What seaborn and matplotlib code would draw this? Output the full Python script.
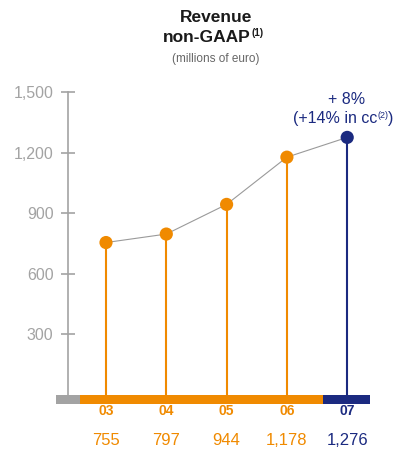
import matplotlib
matplotlib.use("Agg")
import matplotlib.pyplot as plt
import seaborn as sns
import pandas as pd
import numpy as np

# Revenue, non-GAAP (millions of euro)
years = ["03", "04", "05", "06", "07"]
revenue = [755, 797, 944, 1178, 1276]
value_labels = ["755", "797", "944", "1,178", "1,276"]
y_ticks = [300, 600, 900, 1200, 1500]
y_tick_labels = ["300", "600", "900", "1,200", "1,500"]

ORANGE = "#F08A00"
NAVY = "#1B2A80"
GREY = "#A3A3A3"
LINE_GREY = "#9A9A9A"

sns.set_style("white")
plt.rcParams["font.family"] = ["Liberation Sans", "DejaVu Sans"]

df = pd.DataFrame({"pos": np.arange(len(years)), "year": years, "revenue": revenue})
colors = [ORANGE] * (len(years) - 1) + [NAVY]

W, H = 397, 454
fig = plt.figure(figsize=(W / 100, H / 100), dpi=100)
ax = fig.add_axes([56 / W, (H - 404) / H, (370 - 56) / W, (404 - 72) / H])
ax.set_xlim(-0.829, 4.378)
ax.set_ylim(-45, 1600)

# connecting line
sns.lineplot(data=df, x="pos", y="revenue", ax=ax, color=LINE_GREY, lw=0.8, zorder=2)
# stems
ax.vlines(df["pos"], 0, df["revenue"], colors=colors, lw=1.5, zorder=3)
# dots
sns.scatterplot(data=df, x="pos", y="revenue", hue="year", palette=colors,
                s=90, edgecolor="none", legend=False, ax=ax, zorder=4)

# base band below zero
ax.axhspan(-45, 0, xmin=0, xmax=(80 - 56) / (370 - 56), color=GREY, lw=0, zorder=1)
ax.axhspan(-45, 0, xmin=(80 - 56) / (370 - 56), xmax=(323 - 56) / (370 - 56),
           color=ORANGE, lw=0, zorder=1)
ax.axhspan(-45, 0, xmin=(323 - 56) / (370 - 56), xmax=1, color=NAVY, lw=0, zorder=1)

# axes styling
for s in ["top", "right", "bottom"]:
    ax.spines[s].set_visible(False)
ax.spines["left"].set_position(("data", -0.63))
ax.spines["left"].set_bounds(0, 1500)
ax.spines["left"].set_color(GREY)
ax.spines["left"].set_linewidth(1.2)
ax.set_yticks(y_ticks)
ax.set_yticklabels(y_tick_labels)
ax.tick_params(axis="y", left=True, direction="inout", length=10, width=1.2,
               color=GREY, labelcolor=GREY, labelsize=11.5, pad=5.5)
ax.set_xticks([])
ax.set_xlabel("")
ax.set_ylabel("")

# year labels and values beneath the band
for i, (yr, lab, c) in enumerate(zip(years, value_labels, colors)):
    ax.text(i, -82, yr, ha="center", va="center", color=c, fontsize=10,
            fontweight="bold", clip_on=False)
    ax.text(i, -225, lab, ha="center", va="center", color=c, fontsize=12,
            clip_on=False)

# titles
def ftext(x, y, s, **kw):
    fig.text(x / W, 1 - y / H, s, **kw)

ftext(216, 17, "Revenue", ha="center", va="center", fontsize=12.5,
      fontweight="bold", color="#1A1A1A")
ftext(251, 38, "non-GAAP", ha="right", va="center", fontsize=12.5,
      fontweight="bold", color="#1A1A1A")
ftext(251, 33, "(1)", ha="left", va="center", fontsize=7,
      fontweight="bold", color="#1A1A1A")
ftext(216, 59, "(millions of euro)", ha="center", va="center", fontsize=8.5,
      color="#666666")

# growth annotation
ftext(347, 100, "+ 8%", ha="center", va="center", fontsize=11.5, color=NAVY)
ftext(377, 119, "(+14% in cc", ha="right", va="center", fontsize=11.5, color=NAVY)
ftext(377, 115, "(2)", ha="left", va="center", fontsize=6.5, color=NAVY)
ftext(388, 119, ")", ha="left", va="center", fontsize=11.5, color=NAVY)

fig.savefig("out.png", dpi=100)
